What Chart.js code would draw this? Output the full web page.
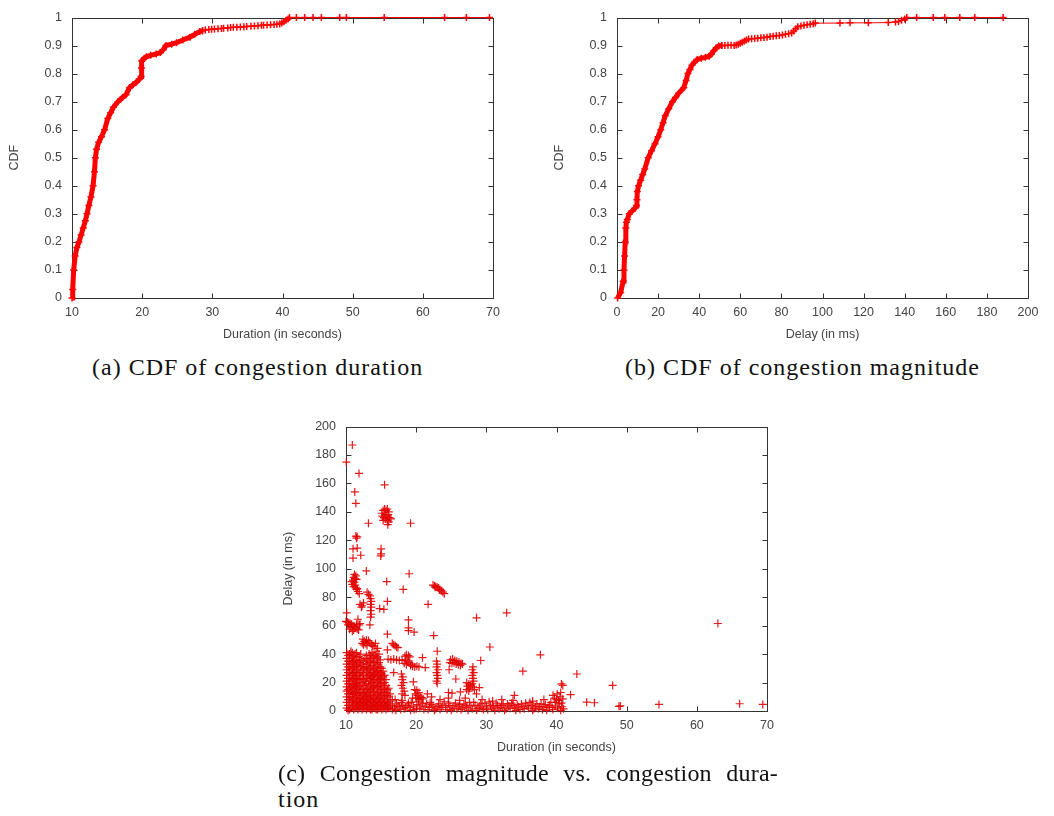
<!DOCTYPE html>
<html>
<head>
<meta charset="utf-8">
<script src="https://cdn.jsdelivr.net/npm/chart.js@4.4.1/dist/chart.umd.min.js"></script>
<style>
    body { margin: 0; background: #fff; width: 1054px; height: 816px; position: relative; overflow: hidden; }
    canvas { position: absolute; }
    .caption {
        position: absolute;
        font-family: "Liberation Serif", serif;
        font-size: 24px;
        line-height: 26px;
        color: #111;
        white-space: nowrap;
        letter-spacing: 1px;
    }
    .justified { width: 500px; text-align: justify; text-align-last: justify; letter-spacing: 0.2px; white-space: normal; }
</style>
</head>
<body>
<canvas id="chartDuration" width="520" height="350" style="left:0;top:0"></canvas>
<canvas id="chartDelay" width="534" height="350" style="left:520px;top:0"></canvas>
<canvas id="chartScatter" width="530" height="354" style="left:270px;top:409px"></canvas>

<div class="caption" style="left:92px;top:354px">(a) CDF of congestion duration</div>
<div class="caption" style="left:625px;top:354px">(b) CDF of congestion magnitude</div>
<div class="caption justified" style="left:278px;top:760px">(c) Congestion magnitude vs. congestion dura-</div>
<div class="caption" style="left:278px;top:786px">tion</div>

<script>
// ── Tick labels ──────────────────────────────────────────────
const durationTicks = [10, 20, 30, 40, 50, 60, 70];
const delayTicks = [0, 20, 40, 60, 80, 100, 120, 140, 160, 180, 200];
const cdfTicks = [0, 0.1, 0.2, 0.3, 0.4, 0.5, 0.6, 0.7, 0.8, 0.9, 1];

// ── (a) CDF of duration (dense part + sparse tail) ───────────
const durCdfX = [10.0, 10.1, 10.24, 10.45, 10.7, 11.0, 11.3, 11.6, 11.9, 12.14, 12.4, 12.7, 13.0, 13.2, 13.33, 13.5, 13.8, 14.2, 14.65, 15.1, 15.5, 15.9, 16.55, 17.2, 17.7, 18.2, 18.7, 19.2, 19.6, 19.85, 19.9, 19.95, 20.3, 20.6, 21.2, 22.0, 22.6, 23.0, 23.4, 24.2, 24.9, 25.8, 26.8, 27.5, 28.2, 28.6];
const durCdfY = [0, 0.03, 0.1, 0.15, 0.18, 0.2, 0.225, 0.25, 0.275, 0.3, 0.33, 0.36, 0.4, 0.45, 0.5, 0.53, 0.555, 0.575, 0.6, 0.64, 0.66, 0.68, 0.7, 0.715, 0.725, 0.75, 0.76, 0.77, 0.78, 0.79, 0.82, 0.845, 0.855, 0.86, 0.865, 0.87, 0.875, 0.885, 0.9, 0.905, 0.91, 0.92, 0.93, 0.94, 0.95, 0.953];
const durTailX = [28.6, 29.0, 29.5, 29.9, 30.3, 30.8, 31.3, 31.6, 32.2, 32.6, 33.0, 33.5, 34.0, 34.5, 34.9, 35.5, 36.0, 36.5, 37.0, 37.3, 37.8, 38.3, 38.8, 39.2, 39.6, 39.9, 40.2, 40.5, 40.8, 41.0, 41.98, 43.16, 44.35, 45.54, 48.15, 49.1, 54.5, 63.1, 66.2, 69.5];
const durTailY = [0.953, 0.955, 0.957, 0.958, 0.959, 0.96, 0.961, 0.962, 0.963, 0.964, 0.965, 0.965, 0.966, 0.967, 0.968, 0.969, 0.97, 0.971, 0.972, 0.972, 0.973, 0.974, 0.975, 0.976, 0.977, 0.98, 0.985, 0.99, 0.995, 1, 1, 1, 1, 1, 1, 1, 1, 1, 1, 1];

// ── (b) CDF of delay ─────────────────────────────────────────
const delayCdfX = [0.3, 1.8, 3.0, 3.4, 3.7, 4.0, 4.3, 4.6, 5.0, 6.0, 7.3, 8.8, 9.5, 9.7, 9.9, 10.5, 11.5, 12.5, 13.5, 15.2, 16.8, 18.5, 20.0, 21.3, 22.4, 23.5, 25.2, 27.0, 28.5, 30.0, 32.5, 33.6, 34.5, 35.5, 36.5, 37.6, 39.0, 41.0, 43.0, 44.8, 46.0, 47.2, 48.3, 49.5, 51.0];
const delayCdfY = [0, 0.02, 0.06, 0.1, 0.15, 0.2, 0.25, 0.27, 0.28, 0.3, 0.31, 0.32, 0.33, 0.35, 0.38, 0.4, 0.42, 0.44, 0.46, 0.5, 0.525, 0.55, 0.575, 0.6, 0.625, 0.65, 0.675, 0.7, 0.715, 0.73, 0.75, 0.775, 0.8, 0.815, 0.83, 0.84, 0.85, 0.855, 0.858, 0.862, 0.87, 0.882, 0.892, 0.898, 0.9];
const delayTailX = [51.0, 52.5, 54.0, 55.5, 57.0, 58.0, 59.0, 60.0, 61.0, 62.0, 63.0, 64.0, 65.5, 67.0, 68.5, 70.0, 71.5, 73.0, 74.5, 76.0, 77.5, 79.0, 80.5, 82.0, 83.5, 85.0, 86.0, 87.0, 88.0, 89.5, 91.0, 92.5, 94.0, 95.5, 96.5, 108.5, 113.4, 122.3, 132.0, 135.5, 137.0, 138.5, 140.0, 141.0, 145.8, 153.9, 159.5, 166.8, 174.1, 187.9];
const delayTailY = [0.9, 0.9, 0.901, 0.901, 0.9, 0.902, 0.905, 0.908, 0.912, 0.916, 0.92, 0.923, 0.924, 0.925, 0.926, 0.928, 0.929, 0.93, 0.932, 0.933, 0.935, 0.936, 0.938, 0.94, 0.942, 0.945, 0.952, 0.96, 0.967, 0.97, 0.972, 0.974, 0.976, 0.978, 0.98, 0.98, 0.981, 0.981, 0.982, 0.984, 0.986, 0.99, 0.995, 1, 1, 1, 1, 1, 1, 1];

// ── (c) Delay vs duration, [seconds, ms] ─────────────────────
const scatterOutliers = [
    [10.9, 187], [10.05, 175], [11.85, 167], [15.5, 159], [11.25, 154], [11.4, 146],
    [13.2, 132], [19.2, 132], [11.4, 123], [11.6, 122.5], [11.5, 121.5],
    [11.0, 114], [11.6, 114.5], [11.0, 107.5], [12.1, 109.5], [15.0, 114], [15.0, 110.5], [14.95, 109],
    [12.9, 98.5], [19.0, 96.5], [15.8, 91], [18.15, 85.5],
    [12.0, 75], [12.3, 74], [12.5, 76], [12.2, 73], [14.8, 72], [15.4, 71.5], [15.9, 77], [21.7, 75],
    [10.1, 69], [28.6, 65.5], [32.9, 69], [63.0, 61.5],
    [18.9, 64], [18.9, 58.5], [18.9, 56.5], [19.7, 55.5], [15.9, 54], [22.5, 53],
    [15.9, 43], [23.0, 42], [30.5, 45], [37.7, 39.5], [20.9, 37.5], [21.3, 30.5],
    [29.2, 35.5], [35.2, 28], [42.9, 26], [25.65, 22.5], [24.7, 29], [19.6, 20.5], [16.8, 27],
    [21.6, 12], [29.0, 16.5], [48.0, 18], [40.7, 19], [40.9, 18], [42.0, 11.5], [34.0, 11],
    [26.3, 13.5], [24.6, 13], [25.1, 12.5], [28.6, 12],
    [44.3, 6.2], [45.4, 5.8], [48.9, 3.3], [49.1, 3.6], [54.6, 4.6], [66.1, 5.1], [69.4, 4.6]
];
const scatterClusters = [
    [15.1, 139], [15.3, 141], [15.5, 142], [15.7, 141], [15.9, 142], [16.1, 140], [15.2, 137], [15.4, 136],
    [15.6, 138], [15.8, 137], [16.0, 138], [16.2, 136], [15.3, 134], [15.6, 135], [15.9, 134], [16.1, 133],
    [15.95, 131], [16.4, 135],
    [11.2, 96], [11.4, 95], [11.1, 94], [11.3, 93], [11.0, 92], [11.5, 92.5], [10.8, 91], [11.2, 90.5],
    [10.9, 89], [11.3, 88.5], [11.1, 87.5], [11.4, 87], [11.5, 85.5], [11.7, 84], [11.9, 82.5], [11.6, 86],
    [22.4, 88.5], [22.6, 88], [22.8, 87.5], [23.0, 87], [23.2, 86.5], [23.4, 85.5], [23.6, 84.5], [23.8, 83.5],
    [24.0, 82.5], [22.7, 87], [23.3, 85],
    [13.0, 83.5], [13.2, 82], [13.4, 81], [13.5, 79], [13.6, 77], [13.5, 75], [13.6, 73], [13.5, 70.5],
    [13.6, 68], [13.5, 66], [13.4, 60.5],
    [10.0, 63], [10.2, 62.5], [10.4, 62], [10.6, 61.5], [10.8, 61], [11.0, 60], [11.2, 59.5], [11.4, 58.5],
    [11.6, 57.5], [11.8, 57], [10.3, 60.5], [10.7, 59], [11.1, 57], [10.5, 57.5], [10.9, 56], [11.5, 61],
    [11.9, 60.5], [11.7, 64.5], [12.0, 61.5],
    [12.4, 50.5], [12.6, 49], [12.8, 47.5], [13.0, 46], [12.5, 46.5], [13.2, 49.5], [13.4, 48], [13.6, 47],
    [13.8, 46], [14.0, 45.5], [14.2, 47.5], [12.3, 47.5], [12.9, 50],
    [16.6, 47.5], [16.8, 46.5], [17.0, 46], [17.2, 45], [17.4, 44.5],
    [16.0, 36.5], [16.4, 36], [16.8, 36.5], [17.2, 36], [17.6, 35.5], [18.0, 36],
    [18.4, 38.5], [18.6, 39.5], [18.9, 39], [19.1, 38], [18.5, 36], [18.8, 35], [19.0, 34], [18.3, 33.5],
    [18.6, 32.5], [19.2, 32], [19.5, 31.5], [19.8, 31], [20.1, 31.5], [20.4, 31], [19.4, 33],
    [22.9, 35], [23.0, 33], [22.9, 31], [23.1, 29], [22.9, 27], [23.0, 25], [23.1, 23], [22.9, 21], [23.0, 19.5],
    [24.9, 36], [25.2, 36.5], [25.5, 35.5], [25.8, 35], [26.1, 34.5], [26.4, 33.5], [24.8, 34], [25.1, 33.5],
    [25.4, 34], [25.7, 33], [26.0, 32.5], [26.3, 32], [26.6, 33],
    [28.1, 31], [28.0, 29], [28.2, 27], [28.0, 25], [28.1, 23], [28.2, 21], [28.0, 19], [28.1, 17], [28.3, 15],
    [27.2, 20], [27.5, 19], [27.3, 17.5], [27.6, 16], [27.2, 15], [27.5, 14], [27.8, 18],
    [17.9, 26], [18.1, 24], [18.0, 22], [18.2, 20], [17.9, 18], [18.1, 16], [18.3, 14], [18.0, 12], [18.4, 11],
    [19.8, 15], [20.1, 14.5], [20.4, 13], [19.9, 12], [20.2, 11], [20.6, 10], [20.0, 9], [20.4, 8], [20.8, 9.5]
];
// dense block near the origin: [seconds, [ms, ms, ...]]
const scatterMass = [
    [10.1, [2, 6, 10, 14, 17, 21, 25, 29, 33, 37, 41]],
    [10.3, [0.5, 4, 8, 12, 15, 19, 23, 27, 31, 35, 39]],
    [10.5, [1, 4, 8, 12, 16, 19, 23, 27, 31, 35, 40]],
    [10.7, [2, 6, 10, 14, 17, 21, 25, 29, 33, 37, 42]],
    [10.9, [3, 6, 9, 13, 18, 22, 26, 30, 34, 38, 41]],
    [11.1, [1, 4, 8, 12, 16, 19, 23, 27, 31, 35, 39]],
    [11.3, [2, 5, 10, 14, 17, 21, 24, 28, 33, 36, 40]],
    [11.5, [3, 7, 12, 16, 19, 23, 27, 31, 35, 41]],
    [11.7, [1, 4, 7, 11, 15, 20, 25, 29, 32, 38]],
    [11.9, [2, 5, 9, 13, 17, 22, 27, 34, 38]],
    [12.1, [3, 6, 9, 13, 18, 23, 27, 31, 36, 40]],
    [12.3, [1, 4, 8, 11, 15, 20, 25, 29, 33]],
    [12.5, [2, 5, 8, 12, 16, 22, 26, 30, 35]],
    [12.7, [3, 6, 10, 13, 18, 21, 31, 37]],
    [12.9, [1, 4, 7, 10, 14, 19, 24, 28, 33, 39]],
    [13.1, [2, 5, 8, 12, 16, 23, 27, 31, 36]],
    [13.3, [2, 6, 9, 13, 17, 21, 25, 29, 34, 40]],
    [13.5, [1, 4, 8, 11, 15, 19, 23, 26, 30, 35, 39]],
    [13.7, [1, 3, 7, 11, 16, 20, 24, 27, 32, 37, 41]],
    [13.9, [3, 6, 10, 13, 17, 22, 25, 29, 34, 38]],
    [14.1, [2, 5, 9, 14, 18, 22, 26, 30, 35, 39]],
    [14.3, [1, 4, 7, 11, 16, 20, 24, 28, 31, 37, 42]],
    [14.5, [1, 4, 8, 12, 17, 21, 25, 28, 33, 38, 44]],
    [14.7, [2, 5, 9, 13, 18, 22, 26, 30, 34, 40]],
    [14.9, [3, 6, 10, 15, 19, 23, 27, 31, 36]],
    [15.1, [1, 4, 7, 12, 17, 22, 26, 30]],
    [15.3, [2, 5, 9, 14, 20, 24, 28]],
    [15.5, [3, 6, 11, 16, 20, 25]],
    [15.7, [1, 4, 8, 13, 18, 22]],
    [15.9, [2, 6, 11, 15]],
    [16.1, [2, 5, 10, 16]],
    [16.3, [3, 7, 12]],
    [16.6, [1, 4, 8]]
];
const scatterFloor = [
    [16.9, 2], [17.2, 5], [17.6, 3], [17.9, 6], [18.3, 1.5], [18.7, 4], [19.0, 2.5], [19.3, 6], [19.7, 1],
    [20.1, 4.5], [20.5, 2], [20.9, 5.5], [21.3, 3], [21.7, 1], [22.0, 6], [22.4, 3.5], [22.8, 1.5], [23.2, 5],
    [23.6, 2.5], [24.0, 6.5], [24.4, 1], [24.8, 4], [25.2, 2], [25.6, 5.5], [26.0, 3], [26.4, 1], [26.8, 5],
    [27.2, 2.5], [27.6, 6], [28.0, 1.5], [28.4, 4], [28.8, 2], [29.2, 5], [29.6, 1], [30.0, 3.5], [30.4, 6.5],
    [30.8, 2], [31.2, 0.5], [31.6, 4], [32.0, 2.5], [32.4, 5], [32.8, 1.5], [33.2, 3.5], [33.6, 5.5], [34.0, 2],
    [34.4, 4.5], [34.8, 1], [35.2, 3], [35.6, 5.5], [36.0, 2], [36.4, 4], [36.8, 1.5], [37.2, 5], [37.6, 3],
    [38.0, 1], [38.4, 4.5], [38.8, 2.5], [39.2, 6], [39.5, 1], [39.8, 3.5], [40.0, 8], [40.2, 2], [40.4, 5],
    [40.6, 0.5], [40.8, 3], [40.5, 10], [39.7, 9], [40.1, 12], [41.0, 1.5],
    [17.0, 8], [18.0, 7.5], [19.5, 9], [21.0, 8.5], [22.2, 10], [23.4, 8], [24.6, 9], [26.2, 7.5], [27.0, 9],
    [29.4, 8], [30.9, 7], [32.2, 8], [33.8, 7.5], [36.6, 7], [38.2, 8],
    [17.1, 0.5], [17.4, 3.5], [17.8, 1], [18.1, 4], [18.5, 2.5], [18.9, 5.5], [19.2, 0.5], [19.6, 3.5],
    [20.0, 1.5], [20.3, 6.5], [20.7, 3.5], [21.1, 1], [21.5, 5], [21.9, 2.5], [22.2, 4.5], [22.6, 0.5],
    [23.0, 3], [23.4, 1], [23.8, 4], [24.2, 2.5], [24.6, 5.5], [25.0, 0.5], [25.4, 3.5], [25.8, 1.5],
    [26.2, 4.5], [26.6, 2], [27.0, 4], [27.4, 0.5], [27.8, 3.5], [28.2, 6], [28.6, 0.5], [29.0, 3.5],
    [29.4, 2], [29.8, 5.5], [30.2, 1], [30.6, 4], [31.0, 3], [31.4, 5.5], [31.8, 1.5], [32.2, 4],
    [32.6, 0.5], [33.0, 5], [33.4, 2], [33.8, 4], [34.2, 0.5], [34.6, 3], [35.0, 5], [35.4, 1.5],
    [35.8, 3.5], [36.2, 6], [36.6, 0.5], [37.0, 3], [37.4, 1.5], [37.8, 5], [38.2, 3], [38.6, 0.5],
    [39.0, 4], [39.4, 2.5], [39.9, 6], [40.3, 7.5], [40.7, 5.5], [40.9, 8.5], [39.5, 11], [40.6, 13]
];

// ── Helpers ──────────────────────────────────────────────────
const RED = "#ff0000";
const AXIS = "#333";
const LABEL = "#444";
const tickFont = { family: "Liberation Sans", size: 12.5 };

function toPoints(xs, ys) {
    return xs.map((x, i) => ({ x, y: ys[i] }));
}

function pairPoints(pairs) {
    return pairs.map(p => ({ x: p[0], y: p[1] }));
}

// gnuplot-like frame with inward ticks on all four sides
const gnuplotFrame = {
    id: "gnuplotFrame",
    beforeDatasetsDraw(chart) {
        const { ctx, chartArea: a, scales } = chart;
        const L = Math.round(a.left) + 0.5, R = Math.round(a.right) + 0.5;
        const T = Math.round(a.top) + 0.5, B = Math.round(a.bottom) + 0.5;
        ctx.save();
        ctx.strokeStyle = AXIS;
        ctx.lineWidth = 1;
        ctx.beginPath();
        scales.x.ticks.forEach(t => {
            const px = Math.round(scales.x.getPixelForValue(t.value)) + 0.5;
            ctx.moveTo(px, B); ctx.lineTo(px, B - 5);
            ctx.moveTo(px, T); ctx.lineTo(px, T + 5);
        });
        scales.y.ticks.forEach(t => {
            const py = Math.round(scales.y.getPixelForValue(t.value)) + 0.5;
            ctx.moveTo(L, py); ctx.lineTo(L + 5, py);
            ctx.moveTo(R, py); ctx.lineTo(R - 5, py);
        });
        ctx.stroke();
        ctx.strokeRect(L, T, R - L, B - T);
        ctx.restore();
    }
};

function axis(ticks, title, isX) {
    return {
        type: "linear",
        min: ticks[0],
        max: ticks[ticks.length - 1],
        afterBuildTicks: s => { s.ticks = ticks.map(v => ({ value: v })); },
        afterFit: s => { if (isX) s.height = 52; else s.width = 72; },
        grid: { display: false, drawTicks: false },
        border: { display: false },
        ticks: {
            padding: isX ? 7 : 10,
            color: LABEL,
            font: tickFont,
            maxRotation: 0,
            autoSkip: false,
            callback: v => String(v)
        },
        title: {
            display: true,
            text: title,
            color: LABEL,
            font: tickFont,
            padding: isX ? { top: 0, bottom: 7.5 } : { top: 7.5, bottom: 0 }
        }
    };
}

function options(xTicks, yTicks, xTitle, yTitle, padding) {
    return {
        responsive: false,
        animation: false,
        devicePixelRatio: 1,
        layout: { padding },
        plugins: { legend: { display: false }, tooltip: { enabled: false } },
        scales: {
            x: axis(xTicks, xTitle, true),
            y: axis(yTicks, yTitle, false)
        }
    };
}

function cdfDatasets(denseX, denseY, tailX, tailY) {
    const common = {
        showLine: true,
        borderColor: RED,
        pointStyle: "cross",
        pointRadius: 3.5,
        pointBorderColor: RED,
        pointBorderWidth: 1.5,
        clip: false
    };
    return [
        { ...common, data: toPoints(denseX, denseY), borderWidth: 5 },
        { ...common, data: toPoints(tailX, tailY), borderWidth: 1 }
    ];
}

// ── Charts ───────────────────────────────────────────────────
new Chart(document.getElementById("chartDuration"), {
    type: "scatter",
    data: { datasets: cdfDatasets(durCdfX, durCdfY, durTailX, durTailY) },
    options: options(durationTicks, cdfTicks, "Duration (in seconds)", "CDF",
        { left: 0, top: 7, right: 27, bottom: 0 }),
    plugins: [gnuplotFrame]
});

new Chart(document.getElementById("chartDelay"), {
    type: "scatter",
    data: { datasets: cdfDatasets(delayCdfX, delayCdfY, delayTailX, delayTailY) },
    options: options(delayTicks, cdfTicks, "Delay (in ms)", "CDF",
        { left: 25, top: 7, right: 26, bottom: 0 }),
    plugins: [gnuplotFrame]
});

const massPairs = [];
scatterMass.forEach(([sec, list]) => list.forEach(ms => massPairs.push([sec, ms])));

new Chart(document.getElementById("chartScatter"), {
    type: "scatter",
    data: {
        datasets: [{
            data: pairPoints([...massPairs, ...scatterClusters, ...scatterFloor, ...scatterOutliers]),
            pointStyle: "cross",
            pointRadius: 4,
            pointBorderWidth: 1.2,
            pointBorderColor: "rgba(225,0,0,0.9)",
            clip: false
        }]
    },
    options: options(durationTicks, delayTicks, "Duration (in seconds)", "Delay (in ms)",
        { left: 4, top: 12, right: 33, bottom: 0 }),
    plugins: [gnuplotFrame]
});
</script>
</body>
</html>
